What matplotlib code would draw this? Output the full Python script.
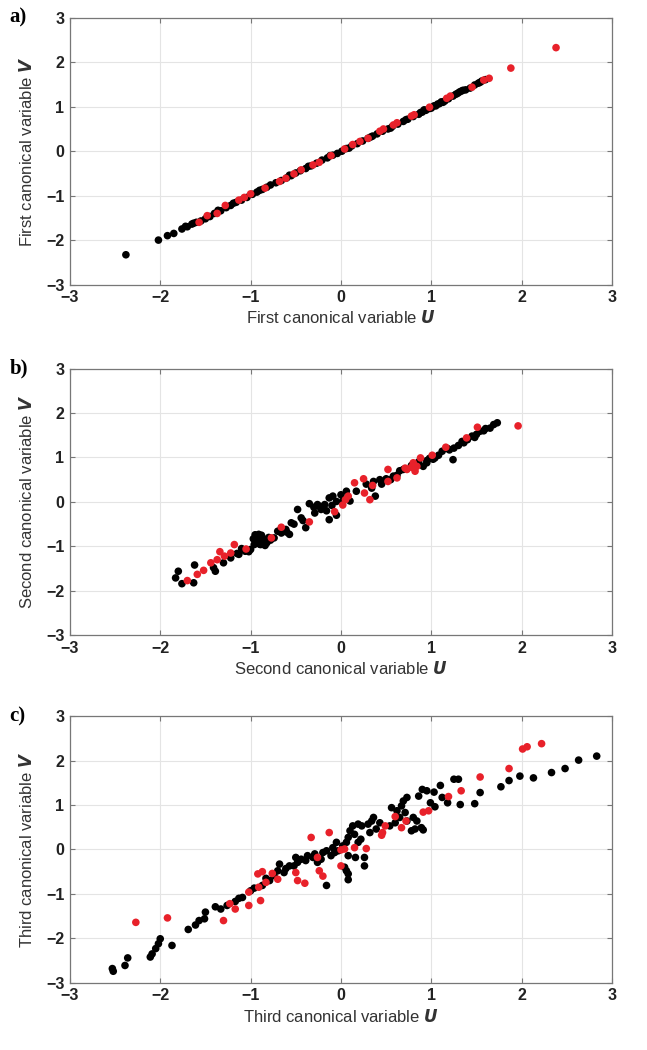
import matplotlib
matplotlib.use("Agg")
import matplotlib.pyplot as plt

# panel a: first canonical pair
a_black_u = [-2.38, -2.02, -1.92, -1.85, -1.76, -1.70, -1.65, -1.60, -1.55, -1.50, -1.45,
             -1.40, -1.33, -1.27, -1.22, -1.16, -1.10, -1.04, -0.98, -0.93, -0.87, -0.82,
             -0.78, -0.72, -0.66, -0.60, -0.55, -0.50, -0.45, -0.39, -0.33, -0.27, -0.21,
             -0.15, -0.09, -0.04, 0.01, 0.06, 0.12, 0.18, 0.24, 0.30, 0.35, 0.40, 0.46,
             0.52, 0.57, 0.63, 0.69, 0.74, 0.80, 0.86, 0.90, 0.94, 0.98, 1.03, 1.07, 1.11,
             1.15, 1.19, 1.24, 1.29, 1.33, 1.38, 1.43, 1.48, 1.52, 1.56, 1.60,
             -1.72, -1.63, -1.36, -1.19, -0.90, -0.57, -0.36, -0.12, 0.09, 0.33, 0.55,
             0.72, 0.88, 0.92, 1.00, 1.05, 1.09, 1.13, 1.27, 1.31, 1.35, 1.54]
a_black_v = [-2.33, -2.00, -1.90, -1.85, -1.75, -1.70, -1.64, -1.60, -1.57, -1.52, -1.47,
             -1.40, -1.34, -1.27, -1.22, -1.15, -1.10, -1.04, -0.97, -0.92, -0.86, -0.81,
             -0.76, -0.71, -0.66, -0.60, -0.55, -0.49, -0.44, -0.39, -0.33, -0.27, -0.20,
             -0.15, -0.09, -0.05, 0.00, 0.06, 0.12, 0.17, 0.23, 0.29, 0.34, 0.39, 0.45,
             0.50, 0.56, 0.61, 0.67, 0.72, 0.78, 0.83, 0.88, 0.92, 0.96, 1.02, 1.06, 1.11,
             1.13, 1.18, 1.24, 1.30, 1.35, 1.38, 1.42, 1.49, 1.53, 1.58, 1.61,
             -1.69, -1.62, -1.33, -1.17, -0.88, -0.54, -0.34, -0.10, 0.07, 0.32, 0.52,
             0.71, 0.87, 0.93, 0.97, 1.02, 1.07, 1.10, 1.28, 1.33, 1.37, 1.55]
a_red_u = [2.38, 1.88, 1.64, 1.58, 1.45, 1.21, 1.17, 0.98, 0.81, 0.78, 0.62, 0.58, 0.47,
           0.43, 0.30, 0.21, 0.13, 0.04, -0.11, -0.24, -0.31, -0.44, -0.52, -0.61, -0.68,
           -0.84, -1.00, -1.07, -1.13, -1.28, -1.37, -1.48, -1.57]
a_red_v = [2.33, 1.87, 1.64, 1.60, 1.44, 1.24, 1.19, 0.99, 0.82, 0.79, 0.64, 0.59, 0.50,
           0.45, 0.29, 0.22, 0.15, 0.05, -0.10, -0.25, -0.31, -0.42, -0.51, -0.61, -0.68,
           -0.83, -0.96, -1.04, -1.10, -1.22, -1.40, -1.45, -1.60]

# panel b: second canonical pair
b_black_u = [1.73, 1.69, 1.60, 1.54, 1.45, 1.34, 1.25, 1.24, 1.12, 1.04, 0.95, 0.91, 0.69,
             0.58, 0.43, 0.36, 0.34, 0.38, 0.17, 0.06, 0.00, -0.09, -0.13, -0.05, -0.18,
             -0.26, -0.35, -0.22, -0.29, -0.13, -0.05, -0.48, -0.44, -0.55, -0.39, -0.61,
             -0.70, -0.57, -0.74, -0.91, -0.87, -0.94, -0.96, -0.89, -1.00, -1.06, -1.13,
             -1.30, -1.39, -1.41, -1.62, -1.63, -1.76, -1.80, -1.83, -0.92, -0.85, -0.82,
             -0.97, -0.90, -0.80, -1.10, 1.50, 1.40, 1.30, 1.18, 1.08, 0.98, 0.86, 0.78,
             0.65, 0.50, 0.28, -0.20, -0.30, -0.60, -0.66,
             -0.93, -0.88, -0.86, -0.84, -0.95, -0.91, -0.78, -1.02, -1.15, -1.22, -0.66,
             -0.52, -0.42, -0.16, -0.10, -0.24, 0.02, 0.10, 0.45, 0.55, 0.62, 0.95, 1.02,
             1.20, 1.36, 1.48, 1.58, 1.65]
b_black_v = [1.78, 1.74, 1.65, 1.59, 1.48, 1.36, 1.21, 0.95, 1.14, 0.99, 0.93, 0.80, 0.73,
             0.58, 0.50, 0.46, 0.31, 0.13, 0.24, 0.24, 0.16, 0.13, 0.09, 0.01, -0.06,
             -0.06, -0.04, -0.17, -0.25, -0.40, -0.30, -0.17, -0.36, -0.47, -0.58, -0.62,
             -0.66, -0.73, -0.81, -0.73, -0.81, -0.88, -0.96, -0.96, -1.07, -1.11, -1.18,
             -1.37, -1.56, -1.48, -1.42, -1.82, -1.84, -1.56, -1.71, -0.78, -0.85, -0.92,
             -0.83, -0.95, -0.80, -1.05, 1.52, 1.40, 1.27, 1.20, 1.05, 0.98, 0.90, 0.82,
             0.70, 0.52, 0.40, -0.12, -0.12, -0.68, -0.70,
             -0.90, -0.75, -0.88, -0.98, -0.74, -0.82, -0.86, -1.12, -1.16, -1.26, -0.60,
             -0.50, -0.42, -0.20, -0.08, -0.10, 0.02, 0.02, 0.40, 0.50, 0.60, 0.88, 0.96,
             1.17, 1.33, 1.45, 1.60, 1.66]
b_red_u = [1.96, 1.51, 1.39, 1.16, 1.01, 0.88, 0.80, 0.78, 0.73, 0.82, 0.71, 0.84, 0.62,
           0.52, 0.52, 0.35, 0.25, 0.15, 0.26, 0.32, 0.08, 0.05, 0.02, -0.07, -0.35, -0.66,
           -0.77, -1.05, -1.18, -1.22, -1.29, -1.34, -1.37, -1.44, -1.52, -1.59, -1.70]
b_red_v = [1.71, 1.68, 1.44, 1.23, 1.05, 0.99, 0.88, 0.78, 0.73, 0.69, 0.76, 0.80, 0.54,
           0.73, 0.46, 0.37, 0.52, 0.43, 0.20, 0.05, 0.13, 0.05, -0.07, -0.22, -0.45, -0.57,
           -0.81, -1.06, -0.96, -1.15, -1.22, -1.12, -1.30, -1.37, -1.54, -1.63, -1.77]

# panel c: third canonical pair
c_black_u = [2.83, 2.63, 2.48, 2.33, 2.13, 1.98, 1.86, 1.77, 1.54, 1.48, 1.32, 1.30, 1.25,
             1.18, 1.12, 1.10, 1.03, 0.95, 0.90, 0.86, 0.99, 1.04, 0.89, 0.91, 0.82, 0.78,
             0.84, 0.80, 0.73, 0.69, 0.67, 0.71, 0.62, 0.65, 0.56, 0.54, 0.43, 0.36, 0.34,
             0.30, 0.32, 0.39, 0.23, 0.19, 0.13, 0.10, 0.15, 0.22, 0.19, 0.08, 0.06, 0.02,
             -0.05, -0.09, -0.03, -0.07, -0.11, -0.16, -0.20, -0.22, -0.29, -0.26, -0.31,
             -0.37, -0.39, -0.44, -0.48, -0.52, -0.50, -0.57, -0.61, -0.68, -0.63, -0.70,
             -0.74, -0.79, -0.83, -0.87, -0.96, -1.00, -1.09, -1.13, -1.17, -1.26, -1.33,
             -1.39, -1.50, -1.51, -1.57, -1.61, -1.69, -1.87, -2.00, -2.02, -2.05, -2.09,
             -2.11, -2.36, -2.39, -2.53, -2.52, -0.16, 0.08, 0.04, 0.08, 0.08, 0.06, 0.16,
             0.26, 0.26, 0.73, 0.60]
c_black_v = [2.10, 2.01, 1.82, 1.73, 1.61, 1.65, 1.55, 1.41, 1.28, 1.03, 1.01, 1.58, 1.58,
             1.05, 1.17, 1.44, 1.29, 1.32, 1.35, 1.20, 1.05, 0.96, 0.49, 0.44, 0.46, 0.42,
             0.64, 0.72, 1.17, 1.09, 0.98, 0.83, 0.87, 0.72, 0.94, 0.53, 0.60, 0.72, 0.64,
             0.57, 0.38, 0.46, 0.53, 0.57, 0.53, 0.42, 0.34, 0.23, 0.16, 0.27, 0.16, 0.08,
             0.16, 0.04, -0.03, -0.07, -0.14, -0.03, -0.07, -0.22, -0.10, -0.29, -0.18,
             -0.14, -0.25, -0.22, -0.29, -0.37, -0.18, -0.37, -0.43, -0.33, -0.52, -0.48,
             -0.59, -0.70, -0.65, -0.81, -0.87, -0.93, -1.08, -1.10, -1.17, -1.26, -1.34,
             -1.29, -1.41, -1.56, -1.60, -1.70, -1.80, -2.16, -2.01, -2.12, -2.23, -2.35,
             -2.42, -2.44, -2.61, -2.68, -2.74, -0.81, -0.14, -0.40, -0.55, -0.68, -0.48,
             -0.18, -0.18, -0.37, 0.64, 0.60]
c_red_u = [2.22, 2.06, 2.01, 1.86, 1.54, 1.33, 1.19, 0.97, 0.91, 0.72, 0.67, 0.60, 0.49,
           0.46, 0.45, 0.15, 0.28, 0.04, 0.00, 0.00, -0.13, -0.33, -0.26, -0.24, -0.20,
           -0.50, -0.48, -0.40, -0.70, -0.76, -0.87, -0.92, -0.83, -0.91, -1.02, -0.89,
           -1.02, -1.17, -1.23, -1.30, -1.92, -2.27]
c_red_v = [2.38, 2.31, 2.26, 1.82, 1.63, 1.32, 1.19, 0.87, 0.84, 0.64, 0.49, 0.74, 0.53,
           0.38, 0.32, 0.04, 0.02, 0.01, -0.01, -0.37, 0.38, 0.27, -0.18, -0.48, -0.60,
           -0.52, -0.70, -0.76, -0.67, -0.54, -0.50, -0.55, -0.74, -0.85, -0.96, -1.15,
           -1.26, -1.34, -1.22, -1.60, -1.54, -1.64]

panels = [
    ("a)", "First", a_black_u, a_black_v, a_red_u, a_red_v),
    ("b)", "Second", b_black_u, b_black_v, b_red_u, b_red_v),
    ("c)", "Third", c_black_u, c_black_v, c_red_u, c_red_v),
]
ticks = [-3, -2, -1, 0, 1, 2, 3]
tick_labels = ["\u22123", "\u22122", "\u22121", "0", "1", "2", "3"]

plt.rcParams["font.family"] = ["Liberation Sans", "DejaVu Sans"]

fig = plt.figure(figsize=(6.47, 10.5), dpi=100)
bottoms = [0.729, 0.395, 0.064]

for (letter, name, bu, bv, ru, rv), bottom in zip(panels, bottoms):
    ax = fig.add_axes([0.108, bottom, 0.838, 0.254])
    ax.scatter(bu, bv, s=30, color="black", edgecolors="none", zorder=3)
    ax.scatter(ru, rv, s=30, color="#e8212a", edgecolors="none", zorder=4)
    ax.set_xlim(-3, 3)
    ax.set_ylim(-3, 3)
    ax.set_xticks(ticks)
    ax.set_yticks(ticks)
    ax.set_xticklabels(tick_labels, fontsize=11.5, fontweight="bold", color="#222")
    ax.set_yticklabels(tick_labels, fontsize=11.5, fontweight="bold", color="#222")
    ax.grid(True, color="#e4e4e4", linewidth=0.8, zorder=0)
    ax.set_axisbelow(True)
    ax.tick_params(direction="in", length=3.5, width=0.8, color="#777",
                   top=True, right=True, pad=4)
    for spine in ax.spines.values():
        spine.set_edgecolor("#777")
        spine.set_linewidth(0.9)
    ax.set_xlabel(name + r" canonical variable $\boldsymbol{U}$", fontsize=12,
                  color="#333", labelpad=3)
    ax.set_ylabel(name + r" canonical variable $\boldsymbol{V}$", fontsize=12,
                  color="#333", labelpad=8)
    fig.text(0.015, bottom + 0.254, letter, fontsize=15, fontweight="bold",
             family="Liberation Serif", va="center", ha="left")

fig.savefig("out.png", dpi=100)
